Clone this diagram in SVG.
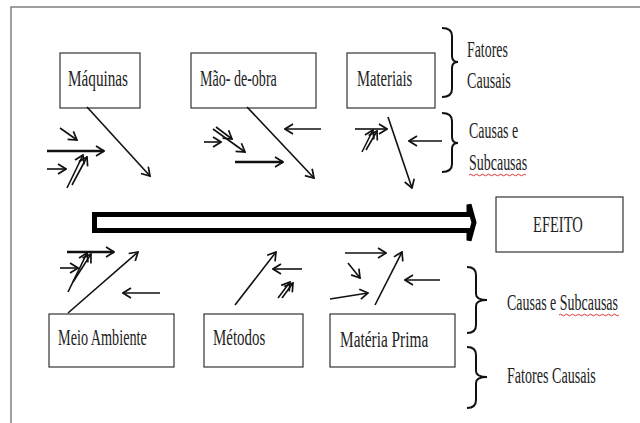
<svg xmlns="http://www.w3.org/2000/svg" width="640" height="423" viewBox="0 0 640 423">
<style>
.box{fill:#fff;stroke:#333;stroke-width:1.2}
.t{font-family:"Liberation Serif","Times New Roman",serif;font-size:24px;fill:#222}
.ln{fill:none;stroke:#111;stroke-width:1.6;marker-end:url(#ah)}
.thk{fill:none;stroke:#111;stroke-width:2.6;marker-end:url(#ah)}
.br{fill:none;stroke:#111;stroke-width:2}
.wavy{fill:none;stroke:#d33;stroke-width:1}
</style>
<defs>
<marker id="ah" viewBox="0 0 10 12" refX="9" refY="6" markerWidth="10" markerHeight="12" markerUnits="userSpaceOnUse" orient="auto">
<path d="M1,1 L9,6 L1,11" fill="none" stroke="#111" stroke-width="1.7"/>
</marker>
</defs>
<rect width="640" height="423" fill="#fff"/>
<g id="frame">
<path d="M11,423 L11,7 L640,7" fill="none" stroke="#808080" stroke-width="1.5"/>
</g>
<g id="maquinas"><rect class="box" x="60" y="53" width="80" height="55"/><text class="t" transform="translate(68,86) scale(0.6,1)" textLength="100" lengthAdjust="spacingAndGlyphs">Máquinas</text></g>
<g id="mao-de-obra"><rect class="box" x="191" y="53" width="125" height="55"/><text class="t" transform="translate(200,86) scale(0.6,1)" textLength="128" lengthAdjust="spacingAndGlyphs">Mão- de-obra</text></g>
<g id="materiais"><rect class="box" x="347" y="53" width="88" height="55"/><text class="t" transform="translate(357,86) scale(0.6,1)" textLength="92" lengthAdjust="spacingAndGlyphs">Materiais</text></g>
<g id="efeito"><rect class="box" x="496" y="197" width="127" height="55"/><text class="t" transform="translate(533,232) scale(0.6,1)" textLength="83" lengthAdjust="spacingAndGlyphs">EFEITO</text></g>
<g id="meio-ambiente"><rect class="box" x="49" y="314" width="125" height="53"/><text class="t" transform="translate(58,345) scale(0.6,1)" textLength="148" lengthAdjust="spacingAndGlyphs">Meio Ambiente</text></g>
<g id="metodos"><rect class="box" x="204" y="314" width="99" height="53"/><text class="t" transform="translate(213,345) scale(0.6,1)" textLength="87" lengthAdjust="spacingAndGlyphs">Métodos</text></g>
<g id="materia-prima"><rect class="box" x="330" y="314" width="125" height="53"/><text class="t" transform="translate(340,347) scale(0.6,1)" textLength="147" lengthAdjust="spacingAndGlyphs">Matéria Prima</text></g>
<g id="legend-top-fatores">
<path class="br" d="M442,28 Q452,28 452,36 L452,56 Q452,62 458,62 Q452,62 452,68 L452,89 Q452,97 442,97"/>
<text class="t" transform="translate(467,57) scale(0.6,1)" textLength="68" lengthAdjust="spacingAndGlyphs">Fatores</text>
<text class="t" transform="translate(467,88) scale(0.6,1)" textLength="73" lengthAdjust="spacingAndGlyphs">Causais</text>
</g>
<g id="legend-top-causas">
<path class="br" d="M442,113 Q452,113 452,121 L452,137 Q452,143 458,143 Q452,143 452,149 L452,164 Q452,172 442,172"/>
<text class="t" transform="translate(469,138) scale(0.6,1)" textLength="82" lengthAdjust="spacingAndGlyphs">Causas e</text>
<text class="t" transform="translate(469,170) scale(0.6,1)" textLength="97" lengthAdjust="spacingAndGlyphs">Subcausas</text>
<path class="wavy" d="M469,175 q1.5,-1.5 3,0 t3,0 t3,0 t3,0 t3,0 t3,0 t3,0 t3,0 t3,0 t3,0 t3,0 t3,0 t3,0 t3,0 t3,0 t3,0 t3,0 t3,0 t3,0"/>
</g>
<g id="legend-bottom-causas">
<path class="br" d="M467,267 Q476,267 476,275 L476,294 Q476,300 487,300 Q476,300 476,306 L476,325 Q476,333 467,333"/>
<text class="t" transform="translate(507,310) scale(0.6,1)" textLength="185" lengthAdjust="spacingAndGlyphs">Causas e Subcausas</text>
<path class="wavy" d="M559,315 q1.5,-1.5 3,0 t3,0 t3,0 t3,0 t3,0 t3,0 t3,0 t3,0 t3,0 t3,0 t3,0 t3,0 t3,0 t3,0 t3,0 t3,0 t3,0 t3,0 t3,0 t3,0"/>
</g>
<g id="legend-bottom-fatores">
<path class="br" d="M467,347 Q476,347 476,355 L476,371 Q476,377 487,377 Q476,377 476,383 L476,400 Q476,408 467,408"/>
<text class="t" transform="translate(507,383) scale(0.6,1)" textLength="148" lengthAdjust="spacingAndGlyphs">Fatores Causais</text>
</g>
<g id="connectors">
<polygon points="94.5,214.5 469,214.5 469,204.5 474,222.5 469,240.5 469,230.5 94.5,230.5" fill="#fff" stroke="#000" stroke-width="5" stroke-miterlimit="4"/>
<!-- Maquinas -->
<line class="ln" x1="87" y1="107" x2="150" y2="176"/>
<line class="thk" x1="47" y1="151" x2="104" y2="151"/>
<line class="ln" x1="60" y1="128" x2="77" y2="140"/>
<line class="ln" x1="47" y1="169" x2="66" y2="169"/>
<line class="ln" x1="67" y1="188" x2="83" y2="155"/>
<line class="ln" x1="72" y1="185" x2="87" y2="157"/>
<!-- Mao-de-obra -->
<line class="ln" x1="247" y1="107" x2="314" y2="178"/>
<line class="ln" x1="321" y1="129" x2="285" y2="129"/>
<line class="ln" x1="204" y1="142" x2="221" y2="142"/>
<line class="ln" x1="213" y1="129" x2="245" y2="152"/>
<line class="ln" x1="216" y1="127" x2="232" y2="139"/>
<line class="thk" x1="235" y1="162" x2="283" y2="162"/>
<!-- Materiais -->
<line class="ln" x1="388" y1="117" x2="412" y2="188"/>
<line class="ln" x1="355" y1="129" x2="387" y2="129"/>
<line class="ln" x1="362" y1="152" x2="373" y2="130"/>
<line class="ln" x1="366" y1="150" x2="377" y2="131"/>
<line class="ln" x1="442" y1="141" x2="409" y2="141"/>
<!-- Meio Ambiente -->
<line class="ln" x1="68" y1="313" x2="138" y2="252"/>
<line class="thk" x1="67" y1="252" x2="114" y2="252"/>
<line class="ln" x1="60" y1="268" x2="78" y2="268"/>
<line class="ln" x1="68" y1="292" x2="87" y2="253"/>
<line class="ln" x1="73" y1="282" x2="91" y2="254"/>
<line class="ln" x1="160" y1="293" x2="123" y2="293"/>
<!-- Metodos -->
<line class="ln" x1="235" y1="305" x2="276" y2="252"/>
<line class="ln" x1="302" y1="269" x2="273" y2="269"/>
<line class="ln" x1="278" y1="298" x2="290" y2="282"/>
<line class="ln" x1="282" y1="298" x2="293" y2="283"/>
<!-- Materia Prima -->
<line class="ln" x1="375" y1="305" x2="402" y2="252"/>
<line class="ln" x1="345" y1="253" x2="386" y2="253"/>
<line class="ln" x1="348" y1="263" x2="360" y2="278"/>
<line class="ln" x1="330" y1="299" x2="368" y2="293"/>
<line class="ln" x1="440" y1="280" x2="405" y2="280"/>
</g>
</svg>
